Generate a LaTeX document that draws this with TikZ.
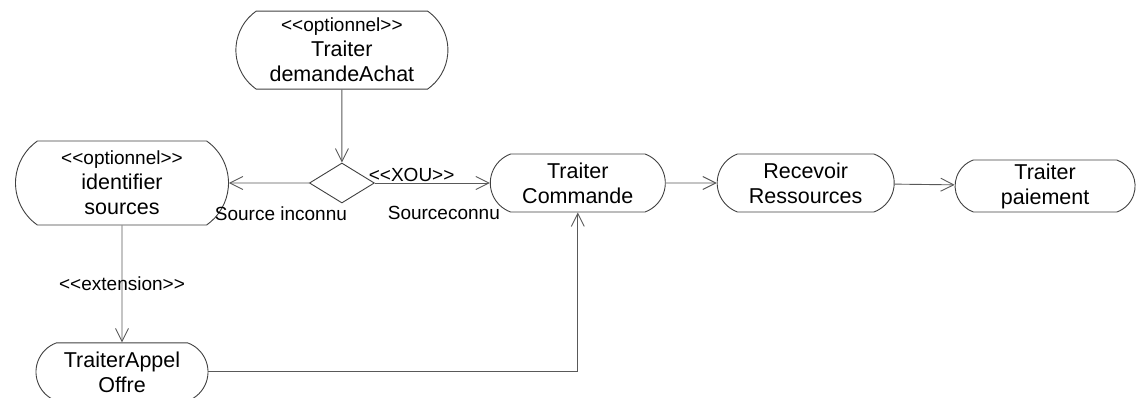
\documentclass[tikz,border=0pt]{standalone}
\usepackage{fontspec}
\setmainfont{Liberation Sans}
\usetikzlibrary{arrows.meta, positioning, shapes.geometric, shapes.misc}

\newcommand{\stereo}[1]{<\kern0pt<#1>\kern0pt>}

\begin{document}
\begin{tikzpicture}[x=1pt, y=-1pt,
    act/.style={draw=black!75, rounded rectangle, rounded rectangle arc length=140,
                line width=0.9pt, align=center, inner sep=1pt,
                font=\fontsize{21.5}{25}\selectfont},
    bigact/.style={act, rounded rectangle arc length=110},
    decision/.style={draw=black!75, diamond, minimum width=65pt, minimum height=40pt,
                     inner sep=0pt, line width=0.9pt},
    arr/.style={-{Straight Barb[length=13pt, width=13pt]}, draw=black!65, line width=0.9pt},
    lbl/.style={font=\fontsize{19}{22}\selectfont, inner sep=1pt}
  ]
  \useasboundingbox (0,0) rectangle (1146,398);
  \node[bigact, minimum width=215pt, minimum height=84pt] (ident) at (122,183)
    {{\fontsize{19}{22}\selectfont\stereo{optionnel}}\\identifier\\sources};
  \node[decision, right=80pt of ident] (choix) {};
  \node[bigact, minimum width=214pt, minimum height=78pt, above=73pt of choix] (demande)
    {{\fontsize{19}{22}\selectfont\stereo{optionnel}}\\Traiter\\demandeAchat};
  \node[act, minimum width=177pt, minimum height=58pt, right=115pt of choix] (commande)
    {Traiter\\Commande};
  \node[act, minimum width=179pt, minimum height=58pt, right=51pt of commande] (recevoir)
    {Recevoir\\Ressources};
  \node[act, minimum width=182pt, minimum height=52pt, right=60pt of recevoir, yshift=-3pt] (paiement)
    {Traiter\\paiement};
  \node[act, minimum width=174pt, minimum height=58pt, below=117pt of ident] (appel)
    {TraiterAppel\\Offre};

  \draw[arr] (demande) -- (choix);
  \draw[arr] (choix) -- node[lbl, pos=0.35, below=22pt]{Source inconnu} (ident);
  \draw[arr] (choix) -- node[lbl, pos=0.32, above]{\stereo{XOU}}
    node[lbl, pos=0.6, below=22pt]{Sourceconnu} (commande);
  \draw[arr] (commande) -- (recevoir);
  \draw[arr] (recevoir) -- (paiement);
  \draw[arr] (ident) -- node[lbl]{\stereo{extension}} (appel);
  \draw[arr] (appel.east) -| (commande.south);
\end{tikzpicture}
\end{document}
